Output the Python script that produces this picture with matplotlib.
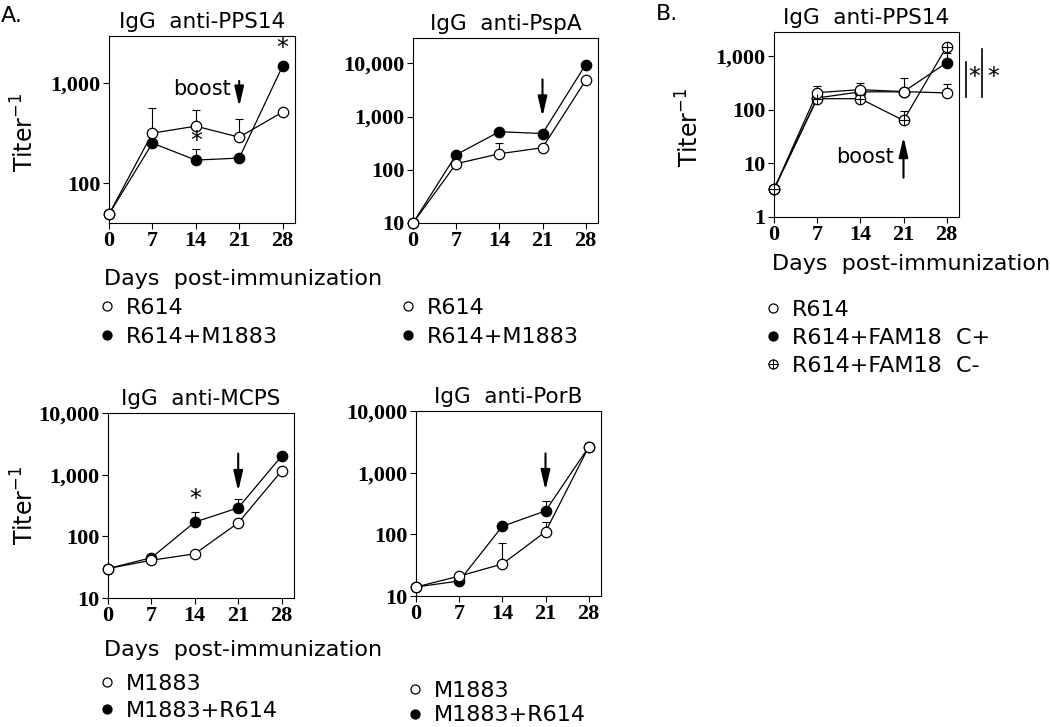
import numpy as np
import matplotlib
matplotlib.use("Agg")
import matplotlib.pyplot as plt
from matplotlib.lines import Line2D
from matplotlib.ticker import FixedLocator, FuncFormatter

nan = np.nan
W, H = 1050, 727

# ---- data ----
days = [0, 7, 14, 21, 28]

pps14_r614 = [49, 316, 371, 288, 513]
pps14_r614_err = [nan, 562, 537, 437, nan]
pps14_r614m = [49, 251, 170, 178, 1480]
pps14_r614m_err = [nan, nan, 219, nan, nan]

pspa_r614 = [10, 130, 200, 260, 4800]
pspa_r614_err = [nan, nan, 325, nan, nan]
pspa_r614m = [10, 192, 520, 480, 9500]
pspa_r614m_err = [nan, nan, nan, nan, nan]

mcps_m1883 = [30, 41, 52, 165, 1150]
mcps_m1883_err = [nan, nan, nan, nan, nan]
mcps_m1883r = [30, 45, 170, 290, 2000]
mcps_m1883r_err = [nan, nan, 245, 400, nan]

porb_m1883 = [14, 21, 33, 110, 2600]
porb_m1883_err = [nan, nan, 72, 160, nan]
porb_m1883r = [14, 17.5, 135, 240, 2600]
porb_m1883r_err = [nan, nan, nan, 350, nan]

b_r614 = [3.3, 208, 236, 217, 205]
b_r614_err = [nan, 280, 316, 395, 300]
b_cplus = [3.3, 165, 215, 215, 750]
b_cplus_err = [nan, nan, nan, nan, 1140]
b_cminus = [3.3, 160, 160, 63, 1500]
b_cminus_err = [nan, nan, nan, 93, nan]

SANS = "DejaVu Sans"
SERIF = "Liberation Serif"

fig = plt.figure(figsize=(W / 100, H / 100), dpi=100)


def px(x, y):
    return x / W, 1 - y / H


def make_axes(l, t, r, b, ylim, yticks, title):
    ax = fig.add_axes([l / W, 1 - b / H, (r - l) / W, (b - t) / H])
    ax.set_yscale("log")
    ax.set_xlim(0, 30)
    ax.set_ylim(*ylim)
    ax.set_xticks(days)
    ax.yaxis.set_major_locator(FixedLocator(yticks))
    ax.yaxis.set_minor_locator(FixedLocator([]))
    ax.yaxis.set_major_formatter(FuncFormatter(lambda v, p: f"{v:,.0f}"))
    ax.tick_params(direction="out", length=4, width=0.8, pad=2)
    for lab in ax.get_xticklabels() + ax.get_yticklabels():
        lab.set_fontfamily(SERIF)
        lab.set_fontweight("bold")
        lab.set_fontsize(16)
    for s in ax.spines.values():
        s.set_linewidth(0.8)
    ax.set_title(title, fontsize=15.5, family=SANS, pad=6)
    return ax


def series(ax, y, err, style):
    y = np.array(y, float)
    err = np.array(err, float)
    ok = ~np.isnan(err)
    if ok.any():
        x = np.array(days)[ok]
        ax.errorbar(x, y[ok], yerr=[np.zeros(ok.sum()), err[ok] - y[ok]],
                    fmt="none", ecolor="k", elinewidth=0.8, capsize=3,
                    capthick=0.8, zorder=1)
    fc = "k" if style == "filled" else "white"
    ax.plot(days, y, "-", color="k", lw=0.9, marker="o", ms=7.5,
            mfc=fc, mec="k", mew=0.9, zorder=3, clip_on=False)
    if style == "cross":
        ax.plot(days, y, "none", marker="+", ms=7.5, mec="k", mew=0.8,
                zorder=4, clip_on=False)


def arrow(ax, x, tail, tip):
    ax.annotate("", xy=(x, tip), xytext=(x, tail),
                arrowprops=dict(arrowstyle="-|>,head_width=0.28,head_length=1.2",
                                color="k", lw=1.5, shrinkA=0, shrinkB=0))


def star(ax, x, y):
    ax.text(x, y, "*", ha="center", va="center", fontsize=17, family=SANS,
            clip_on=False)


# ---- Panel A: anti-PPS14 ----
a1 = make_axes(109, 36, 295, 223, (40, 2950), [100, 1000], "IgG  anti-PPS14")
series(a1, pps14_r614m, pps14_r614m_err, "filled")
series(a1, pps14_r614, pps14_r614_err, "open")
arrow(a1, 21, 1050, 580)
a1.text(19.6, 870, "boost", ha="right", va="center", fontsize=15, family=SANS)
star(a1, 14, 265)
star(a1, 28, 2250)

# ---- anti-PspA ----
a2 = make_axes(413, 38, 598, 223, (10, 30000), [10, 100, 1000, 10000],
               "IgG  anti-PspA")
series(a2, pspa_r614m, pspa_r614m_err, "filled")
series(a2, pspa_r614, pspa_r614_err, "open")
arrow(a2, 21, 5000, 1000)

# ---- anti-MCPS ----
a3 = make_axes(108, 413, 294, 598, (10, 10000), [10, 100, 1000, 10000],
               "IgG  anti-MCPS")
series(a3, mcps_m1883r, mcps_m1883r_err, "filled")
series(a3, mcps_m1883, mcps_m1883_err, "open")
arrow(a3, 21, 2200, 540)
star(a3, 14, 400)

# ---- anti-PorB ----
a4 = make_axes(416, 411, 601, 596, (10, 10000), [10, 100, 1000, 10000],
               "IgG  anti-PorB")
series(a4, porb_m1883r, porb_m1883r_err, "filled")
series(a4, porb_m1883, porb_m1883_err, "open")
arrow(a4, 21, 2050, 520)

# ---- Panel B ----
b = make_axes(774, 32, 959, 217, (1, 2800), [1, 10, 100, 1000],
              "IgG  anti-PPS14")
series(b, b_cplus, b_cplus_err, "filled")
series(b, b_cminus, b_cminus_err, "cross")
series(b, b_r614, b_r614_err, "open")
arrow(b, 21, 5.4, 31)
b.text(14.8, 13, "boost", ha="center", va="center", fontsize=15, family=SANS)
b.plot([31.1, 31.1], [175, 775], color="k", lw=1.2, clip_on=False)
b.plot([33.7, 33.7], [175, 1350], color="k", lw=1.2, clip_on=False)
star(b, 32.4, 400)
star(b, 35.6, 400)

# ---- shared text ----
fig.text(*px(1, 16), "A.", fontsize=16, family=SANS, va="center")
fig.text(*px(656, 14), "B.", fontsize=16, family=SANS, va="center")
ylab = "Titer$^{\\mathregular{-1}}$"
for x, y in [(25, 132), (25, 505), (690, 127)]:
    fig.text(*px(x, y), ylab, rotation=90, fontsize=17, family=SANS,
             ha="center", va="center")
for x, y in [(104, 279), (104, 650), (772, 264)]:
    fig.text(*px(x, y), "Days  post-immunization", fontsize=16, family=SANS,
             ha="left", va="center")


def key(style):
    fc = "k" if style == "filled" else "white"
    h = Line2D([], [], ls="none", marker="o", ms=6.5, mfc=fc, mec="k", mew=0.9)
    if style == "cross":
        return (h, Line2D([], [], ls="none", marker="+", ms=6.5, mec="k",
                          mew=0.7))
    return h


def legend(x, y, labels, styles, spacing=0.4):
    lg = fig.legend([key(s) for s in styles], labels, loc="upper left",
                    bbox_to_anchor=px(x, y), frameon=False, borderpad=0,
                    borderaxespad=0, handlelength=0.8, handletextpad=0.45,
                    labelspacing=spacing, prop=dict(family=SANS, size=16))
    return lg


legend(98, 298, ["R614", "R614+M1883"], ["open", "filled"])
legend(399, 298, ["R614", "R614+M1883"], ["open", "filled"])
legend(98, 674, ["M1883", "M1883+R614"], ["open", "filled"], 0.3)
legend(406, 681, ["M1883", "M1883+R614"], ["open", "filled"], 0.2)
legend(764, 300, ["R614", "R614+FAM18  C+", "R614+FAM18  C-"],
       ["open", "filled", "cross"], 0.35)

fig.savefig("out.png", dpi=100)
